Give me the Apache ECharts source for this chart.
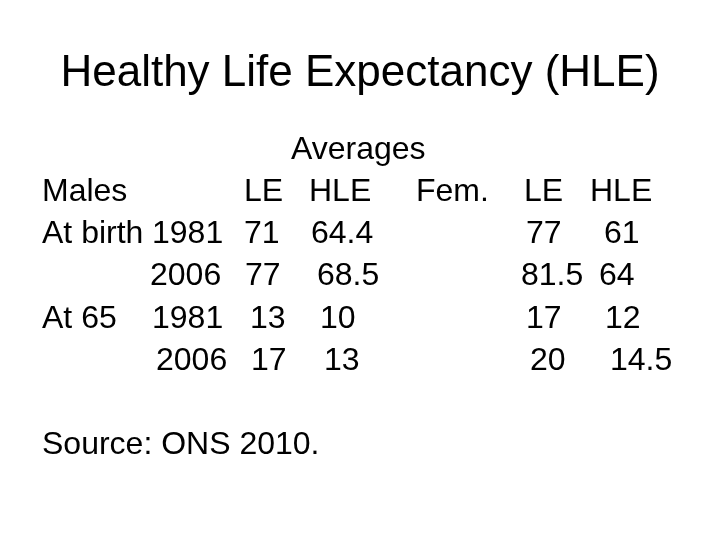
<!DOCTYPE html>
<html>
<head>
<meta charset="utf-8">
<script src="https://cdn.jsdelivr.net/npm/echarts@6/dist/echarts.min.js"></script>
<style>
html,body{margin:0;padding:0;background:#fff;}
#chart{width:720px;height:540px;}
</style>
</head>
<body>
<div id="chart"></div>
<script>
// ---- content / data ----
var titleText = 'Healthy Life Expectancy (HLE)';
var groupHeader = 'Averages';
var headerMale = 'Males';
var headerFemale = 'Fem.';
var colHeaders = ['LE', 'HLE'];
var rowGroups = ['At birth', '', 'At 65', ''];
var years = ['1981', '2006', '1981', '2006'];
var maleLE = ['71', '77', '13', '17'];
var maleHLE = ['64.4', '68.5', '10', '13'];
var femaleLE = ['77', '81.5', '17', '20'];
var femaleHLE = ['61', '64', '12', '14.5'];
var sourceText = 'Source: ONS 2010.';

// ---- layout (positions only) ----
var FONT = '"Liberation Sans", Arial, sans-serif';
var bodySize = 32;
var titleSize = 44;
var rowBaselines = [242, 284, 326.5, 368.5];
var headerBaseline = 199.5;
var colX = {
  group: 42,
  year: [152, 150, 152, 156],
  mLE: [244, 245, 250, 251],
  mHLE: [311, 317, 320, 324],
  fLE: [526, 521, 526, 530],
  fHLE: [604, 599, 605, 610]
};

function txt(str, x, baseline, size, align) {
  return {
    type: 'text',
    style: {
      text: str,
      x: x,
      y: baseline - size * 0.23,
      font: size + 'px ' + FONT,
      fill: '#000',
      align: align || 'left',
      verticalAlign: 'middle'
    }
  };
}

var elements = [];
elements.push(txt(titleText, 360, 84, titleSize, 'center'));
elements.push(txt(groupHeader, 291, 157.5, bodySize));
elements.push(txt(headerMale, colX.group, headerBaseline, bodySize));
elements.push(txt(colHeaders[0], 244, headerBaseline, bodySize));
elements.push(txt(colHeaders[1], 309, headerBaseline, bodySize));
elements.push(txt(headerFemale, 416, headerBaseline, bodySize));
elements.push(txt(colHeaders[0], 524, headerBaseline, bodySize));
elements.push(txt(colHeaders[1], 590, headerBaseline, bodySize));
for (var i = 0; i < years.length; i++) {
  var b = rowBaselines[i];
  if (rowGroups[i]) elements.push(txt(rowGroups[i], colX.group, b, bodySize));
  elements.push(txt(years[i], colX.year[i], b, bodySize));
  elements.push(txt(maleLE[i], colX.mLE[i], b, bodySize));
  elements.push(txt(maleHLE[i], colX.mHLE[i], b, bodySize));
  elements.push(txt(femaleLE[i], colX.fLE[i], b, bodySize));
  elements.push(txt(femaleHLE[i], colX.fHLE[i], b, bodySize));
}
elements.push(txt(sourceText, 42, 453, bodySize));

var chart = echarts.init(document.getElementById('chart'), null, {renderer: 'canvas'});
chart.setOption({
  backgroundColor: '#ffffff',
  animation: false,
  graphic: { elements: elements }
});
</script>
</body>
</html>
